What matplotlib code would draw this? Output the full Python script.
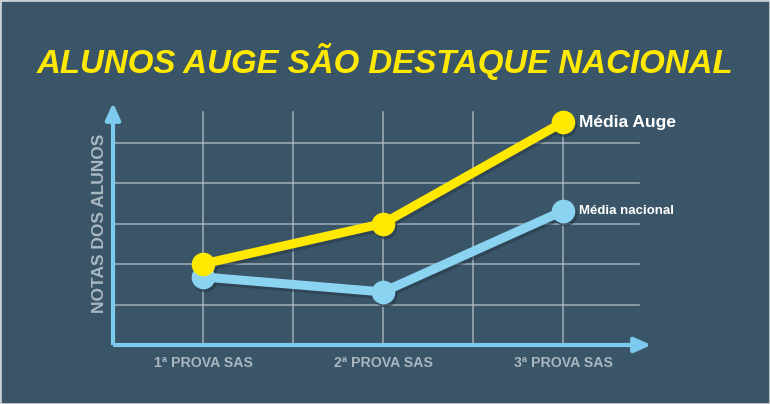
import matplotlib
matplotlib.use("Agg")
import matplotlib.pyplot as plt
from matplotlib.transforms import offset_copy
from matplotlib.patches import Rectangle

# ---- data ----
categories = ["1ª PROVA SAS", "2ª PROVA SAS", "3ª PROVA SAS"]
cat_x = [1, 3, 5]
media_auge = [2.0, 3.0, 5.5]
media_nacional = [1.68, 1.31, 3.31]
series_names = ["Média Auge", "Média nacional"]
title = "ALUNOS AUGE SÃO DESTAQUE NACIONAL"
ylabel = "NOTAS DOS ALUNOS"

BG = "#3b5568"
YELLOW = "#ffe900"
BLUE = "#8ad4f2"
AXIS = "#7ccbee"
GRID = "#b9c4cc"
LABEL = "#a9b7c1"
SHADOW = "#263947"

W, H = 770, 404
fig = plt.figure(figsize=(W / 100, H / 100), dpi=100)
fig.patch.set_facecolor(BG)

# axes: x 0..6 -> px 113..653 ; y 0..6 -> px 345..102 (from top)
left = 113 / W
bottom = (H - 345) / H
ax = fig.add_axes([left, bottom, 540 / W, 243 / H])
ax.set_xlim(0, 6)
ax.set_ylim(0, 6)
ax.axis("off")

# grid
for gy in [1, 2, 3, 4, 5]:
    ax.plot([0, 5.84], [gy, gy], color=GRID, lw=1.1, alpha=0.8, zorder=1, clip_on=False)
for gx in [1, 2, 3, 4, 5]:
    ax.plot([gx, gx], [0, 5.76], color=GRID, lw=1.1, alpha=0.8, zorder=1, clip_on=False)

# axes with arrows
ax.plot([0, 5.82], [0, 0], color=AXIS, lw=3, zorder=3, solid_capstyle="butt", clip_on=False)
ax.plot([0, 0], [0, 5.78], color=AXIS, lw=3, zorder=3, solid_capstyle="butt", clip_on=False)
ax.annotate("", xy=(5.98, 0), xytext=(5.7, 0),
            arrowprops=dict(arrowstyle="-|>,head_length=1.0,head_width=0.45",
                            color=AXIS, lw=3, shrinkA=0, shrinkB=0), zorder=3, annotation_clip=False)
ax.annotate("", xy=(0, 5.98), xytext=(0, 5.5),
            arrowprops=dict(arrowstyle="-|>,head_length=1.0,head_width=0.45",
                            color=AXIS, lw=3, shrinkA=0, shrinkB=0), zorder=3, annotation_clip=False)

# shadows
sh = offset_copy(ax.transData, fig=fig, x=1.5, y=-3, units="dots")
for vals in [media_nacional, media_auge]:
    ax.plot(cat_x, vals, color=SHADOW, lw=6.5, marker="o", ms=16, alpha=0.55,
            transform=sh, zorder=4, clip_on=False, solid_capstyle="round")

ax.plot(cat_x, media_nacional, color=BLUE, lw=6.5, marker="o", ms=16,
        zorder=5, clip_on=False, solid_capstyle="round")
ax.plot(cat_x, media_auge, color=YELLOW, lw=6.5, marker="o", ms=16,
        zorder=6, clip_on=False, solid_capstyle="round")

# series labels
ax.text(cat_x[-1] + 0.18, media_auge[-1], series_names[0], color="white",
        fontsize=12.5, fontweight="bold", family="Liberation Sans",
        ha="left", va="center", zorder=7)
ax.text(cat_x[-1] + 0.18, media_nacional[-1], series_names[1], color="white",
        fontsize=9.5, fontweight="bold", family="Liberation Sans",
        ha="left", va="center", zorder=7)

# category labels
for x, lab in zip(cat_x, categories):
    ax.text(x, -0.44, lab, color=LABEL, fontsize=10.2, fontweight="bold",
            family="Liberation Sans", ha="center", va="center", clip_on=False)

# y label
ax.text(-0.155, 3.0, ylabel, color=LABEL, fontsize=12.5, fontweight="bold",
        family="Liberation Sans", rotation=90, ha="center", va="center", clip_on=False)

# title
fig.text(0.5, 1 - 61 / H, title, color=YELLOW, fontsize=23.8, fontweight="bold",
         fontstyle="italic", family=["Liberation Sans", "DejaVu Sans"],
         ha="center", va="center")

# border
fig.patches.append(Rectangle((0, 0), 1, 1, transform=fig.transFigure, fill=False,
                             edgecolor="#c9ced2", lw=2, zorder=10))

fig.savefig("out.png", dpi=100, facecolor=BG)
